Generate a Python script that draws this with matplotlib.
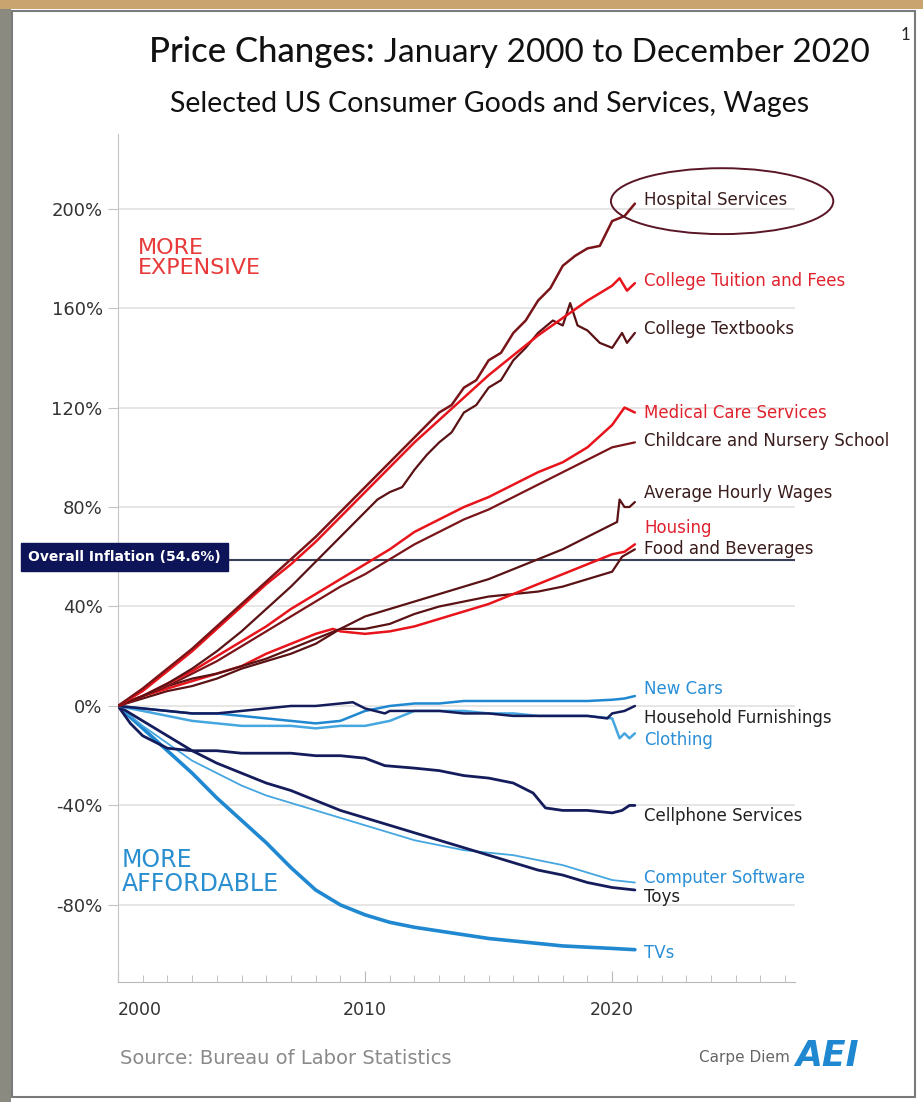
"""Price changes Jan 2000 - Dec 2020, selected US consumer goods, services and wages."""
import matplotlib
matplotlib.use("Agg")
import matplotlib.pyplot as plt
from matplotlib import transforms
from matplotlib.patches import Ellipse, Rectangle
from matplotlib.ticker import MultipleLocator, FixedLocator, FuncFormatter

W, H = 923, 1102

# ---- data (percent change since Jan 2000) ----
YEARS = list(range(2000, 2021)) + [2020.92]

hospital_x = list(range(2000, 2014)) + [2013.5, 2014, 2014.5, 2015, 2015.5,
                                        2016, 2016.5, 2017, 2017.5, 2018, 2018.5,
                                        2019, 2019.5, 2020, 2020.5, 2020.92]
hospital = [0, 7, 15, 23, 32, 41, 50, 59, 68, 78, 88, 98, 108, 118, 121, 128,
            131, 139, 142, 150, 155, 163, 168, 177, 181, 184, 185, 195, 197, 202]

tuition_x = list(range(2000, 2021)) + [2020.3, 2020.6, 2020.92]
tuition = [0, 6, 14, 22, 31, 40, 49, 57, 66, 76, 86, 96, 106, 115, 124, 133,
           141, 149, 156, 163, 169, 172, 167, 170]

textbooks_x = (list(range(2000, 2010)) + [2010, 2010.5, 2011, 2011.5, 2012,
                                         2012.5, 2013, 2013.5, 2014, 2014.5,
                                         2015, 2015.5, 2016, 2016.5, 2017] +
               [2017.6, 2018, 2018.3, 2018.6, 2019, 2019.5, 2020, 2020.4,
                2020.6, 2020.92])
textbooks = [0, 4, 9, 15, 22, 30, 39, 48, 58, 68, 78, 83, 86, 88, 95, 101, 106,
             110, 118, 121, 128, 131, 139, 144, 150, 155, 153, 162, 153, 151,
             146, 144, 150, 146, 150]

medical_x = list(range(2000, 2021)) + [2020.5, 2020.92]
medical = [0, 4, 9, 14, 20, 26, 32, 39, 45, 51, 57, 63, 70, 75, 80, 84, 89, 94,
           98, 104, 113, 120, 118]

childcare = [0, 4, 8, 13, 18, 24, 30, 36, 42, 48, 53, 59, 65, 70, 75, 79, 84,
             89, 94, 99, 104, 106]

wages_x = list(range(2000, 2021)) + [2020.2, 2020.3, 2020.5, 2020.7, 2020.92]
wages = [0, 4, 8, 11, 13, 16, 19, 23, 27, 31, 36, 39, 42, 45, 48, 51, 55, 59,
         63, 68, 73, 74, 83, 80, 80, 82]

housing_x = list(range(2000, 2009)) + [2008.7] + list(range(2009, 2021)) + [2020.5, 2020.92]
housing = [0, 4, 7, 10, 13, 16, 21, 25, 29, 31, 30, 29, 30, 32, 35, 38, 41, 45,
           49, 53, 57, 61, 62, 65]

food_x = list(range(2000, 2021)) + [2020.4, 2020.92]
food = [0, 3, 6, 8, 11, 15, 18, 21, 25, 31, 31, 33, 37, 40, 42, 44, 45, 46, 48,
        51, 54, 60, 63]

new_cars_x = list(range(2000, 2021)) + [2020.5, 2020.92]
new_cars = [0, -1, -2, -3, -3, -4, -5, -6, -7, -6, -2, 0, 1, 1, 2, 2, 2, 2, 2,
            2, 2.5, 3, 4]

household_x = (list(range(2000, 2010)) + [2009.5, 2010, 2010.8] +
               list(range(2011, 2020)) + [2019.8, 2020, 2020.5, 2020.92])
household = [0, -1, -2, -3, -3, -2, -1, 0, 0, 1, 1.5, -1, -3, -2, -2, -2, -3,
             -3, -4, -4, -4, -4, -5, -3, -2, 0]

clothing_x = list(range(2000, 2021)) + [2020.3, 2020.5, 2020.7, 2020.92]
clothing = [0, -2, -4, -6, -7, -8, -8, -8, -9, -8, -8, -6, -2, -2, -2, -3, -3,
            -4, -4, -4, -5, -13, -11, -13, -11]

cellphone_x = ([2000, 2000.5, 2001] + list(range(2002, 2011)) + [2010.8] +
               list(range(2012, 2017)) + [2016.8, 2017.3, 2018, 2019, 2020,
                                          2020.4, 2020.7, 2020.92])
cellphone = [0, -7, -12, -17, -18, -18, -19, -19, -19, -20, -20, -21, -24, -25,
             -26, -28, -29, -31, -35, -41, -42, -42, -43, -42, -40, -40]

software = [0, -8, -15, -22, -27, -32, -36, -39, -42, -45, -48, -51, -54, -56,
            -58, -59, -60, -62, -64, -67, -70, -71]

toys = [0, -6, -12, -18, -23, -27, -31, -34, -38, -42, -45, -48, -51, -54, -57,
        -60, -63, -66, -68, -71, -73, -74]

tvs = [0, -9, -18, -27, -37, -46, -55, -65, -74, -80, -84, -87, -89, -90.5,
       -92, -93.5, -94.5, -95.5, -96.5, -97, -97.5, -98]

INFLATION = 58.5
INFLATION_LABEL = "Overall Inflation (54.6%)"

# ---- styles ----
RED = "#e8141c"
DARK = "#7a1418"
MAROON = "#5a1214"
NAVY = "#141c5c"
BLUE = "#1f88d0"
LBLUE = "#45a6e0"
RED_TXT = "#e0222e"
DARK_TXT = "#3a1c1c"
BLK_TXT = "#222222"
BLUE_TXT = "#2a8fd6"

# name, x, y, line colour, width, label colour, label y
series = [
    ("TVs", YEARS, tvs, BLUE, 2.6, BLUE_TXT, -99.3),
    ("Computer Software", YEARS, software, LBLUE, 1.3, BLUE_TXT, -69.0),
    ("Toys", YEARS, toys, NAVY, 2.0, BLK_TXT, -76.8),
    ("Cellphone Services", cellphone_x, cellphone, NAVY, 2.0, BLK_TXT, -44.2),
    ("Clothing", clothing_x, clothing, LBLUE, 1.8, BLUE_TXT, -13.7),
    ("New Cars", new_cars_x, new_cars, BLUE, 1.8, BLUE_TXT, 6.8),
    ("Household Furnishings", household_x, household, NAVY, 1.8, BLK_TXT, -4.8),
    ("Food and Beverages", food_x, food, MAROON, 1.6, DARK_TXT, 63.1),
    ("Housing", housing_x, housing, RED, 1.8, RED_TXT, 71.6),
    ("Average Hourly Wages", wages_x, wages, MAROON, 1.6, DARK_TXT, 85.7),
    ("Childcare and Nursery School", YEARS, childcare, DARK, 1.6, DARK_TXT, 106.6),
    ("Medical Care Services", medical_x, medical, RED, 1.8, RED_TXT, 117.9),
    ("College Textbooks", textbooks_x, textbooks, MAROON, 1.6, DARK_TXT, 151.6),
    ("College Tuition and Fees", tuition_x, tuition, RED, 1.8, RED_TXT, 170.9),
    ("Hospital Services", hospital_x, hospital, DARK, 1.8, DARK_TXT, 203.4),
]

plt.rcParams["font.family"] = ["DejaVu Sans"]

fig = plt.figure(figsize=(W / 100, H / 100), dpi=100)
fig.patch.set_facecolor("white")


def fx(px):
    return px / W


def fy(py):
    return 1 - py / H


# frame around the screenshot
fig.patches.append(Rectangle((0, 0), fx(11), 1, transform=fig.transFigure,
                             facecolor="#8a8a80", edgecolor="none", zorder=0))
fig.patches.append(Rectangle((0, fy(9)), 1, 9 / H, transform=fig.transFigure,
                             facecolor="#c9a46e", edgecolor="none", zorder=0))
fig.patches.append(Rectangle((fx(12), fy(1097)), fx(903), (1097 - 11) / H,
                             transform=fig.transFigure, facecolor="white",
                             edgecolor="#7a7a7a", linewidth=1.5, zorder=0))

ax = fig.add_axes([fx(118), fy(982), fx(795 - 118), (982 - 134) / H])
ax.set_zorder(5)
ax.patch.set_alpha(0)
ax.set_xlim(2000, 2027.4)
ax.set_ylim(-111, 230)

for name, xs, ys, col, lw, lcol, ly in series:
    ax.plot(xs, ys, color=col, linewidth=lw, solid_capstyle="round", zorder=3)
    ax.text(2021.3, ly, name, color=lcol, fontsize=12, va="center",
            ha="left", clip_on=False)

# overall inflation reference
ax.axhline(INFLATION, color="#3a3f58", linewidth=1.5, zorder=2)
blend = transforms.blended_transform_factory(fig.transFigure, ax.transData)
ax.text(fx(28), INFLATION + 1.5, INFLATION_LABEL, transform=blend, color="white",
        fontsize=10, fontweight="bold", va="center", ha="left", zorder=6,
        bbox=dict(boxstyle="square,pad=0.5", facecolor="#0d1457",
                  edgecolor="#0d1457"))

ax.add_patch(Ellipse((2024.45, 203), 9.0, 26.5, fill=False,
                     edgecolor="#5a1626", linewidth=1.4, clip_on=False,
                     zorder=4))

# axes styling
for side in ("top", "right"):
    ax.spines[side].set_visible(False)
ax.spines["left"].set_color("#c4c4c4")
ax.spines["bottom"].set_color("#b8b8b8")
ax.yaxis.set_major_locator(FixedLocator([-80, -40, 0, 40, 80, 120, 160, 200]))
ax.yaxis.set_major_formatter(FuncFormatter(lambda v, p: f"{v:.0f}%"))
ax.grid(axis="y", color="#e4e4e4", linewidth=1.3, zorder=1)
ax.tick_params(axis="y", length=7, color="#c4c4c4", labelsize=13,
               labelcolor="#333333", pad=4)
ax.xaxis.set_major_locator(FixedLocator([2000, 2010, 2020]))
ax.xaxis.set_minor_locator(MultipleLocator(1))
ax.xaxis.set_major_formatter(FuncFormatter(lambda v, p: f"{v:.0f}"))
ax.tick_params(axis="x", which="major", direction="in", length=8,
               color="#b8b8b8", labelsize=12.5, labelcolor="#333333", pad=14)
ax.tick_params(axis="x", which="minor", direction="in", length=5,
               color="#b8b8b8")
fig.canvas.draw()
ax.get_xticklabels()[0].set_ha("left")

# annotations
ax.text(0.03, 0.877, "MORE\nEXPENSIVE", transform=ax.transAxes, color="#e83a3a",
        fontsize=16, linespacing=1.0, va="top", ha="left")
ax.text(0.006, 0.158, "MORE\nAFFORDABLE", transform=ax.transAxes,
        color="#2a8fd0", fontsize=17, linespacing=1.0, va="top", ha="left")

# titles and footer
fig.text(fx(375), fy(62), "Price Changes:", fontsize=25, fontweight="medium",
         family="Lato", color="#111111", ha="right", va="baseline")
fig.text(fx(384), fy(62), "January 2000 to December 2020", fontsize=24,
         family="Lato", color="#111111", ha="left", va="baseline")
fig.text(fx(490), fy(112), "Selected US Consumer Goods and Services, Wages",
         fontsize=20.5, family="Lato", color="#111111", ha="center",
         va="baseline")
fig.text(fx(905), fy(40), "1", fontsize=12, family="Lato", color="#222222",
         ha="center", va="baseline")
fig.text(fx(120), fy(1064), "Source: Bureau of Labor Statistics", fontsize=14,
         color="#8a8a8a", ha="left", va="baseline")
fig.text(fx(790), fy(1062), "Carpe Diem", fontsize=11, color="#666666",
         ha="right", va="baseline")
fig.text(fx(795), fy(1066), "AEI", fontsize=25, fontweight="bold",
         fontstyle="italic", color="#1f88d0", ha="left", va="baseline")

fig.savefig("out.png", dpi=100)
